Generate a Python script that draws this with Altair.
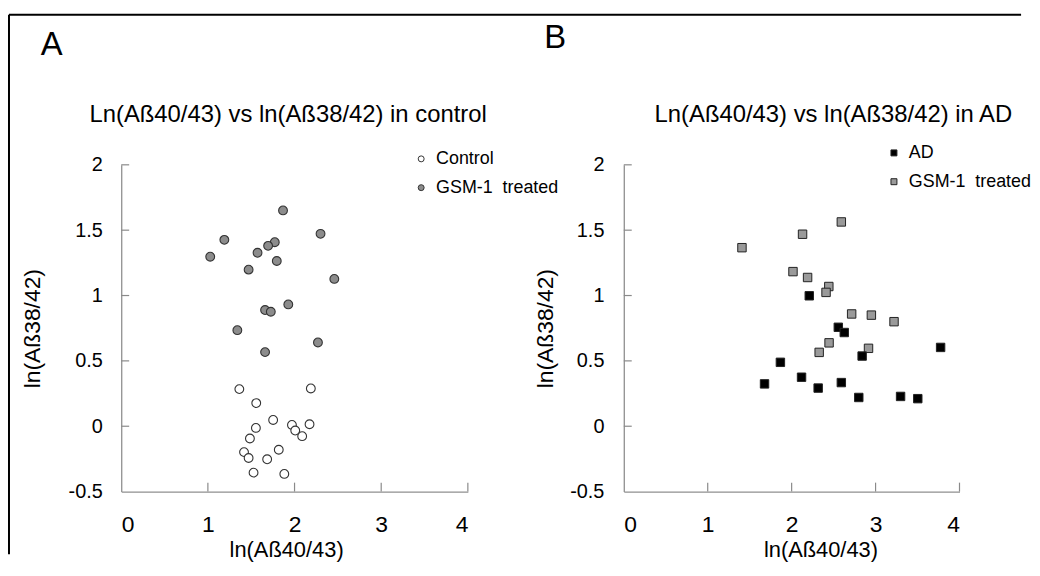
import altair as alt
import pandas as pd

FONT = "Liberation Sans, Arial, Helvetica, sans-serif"

# ---------------- data ----------------
# Panel A: control
ctrl_x = [1.363, 2.188, 1.558, 1.753, 1.554, 1.970, 2.173, 2.008, 2.088, 1.485, 1.417, 1.470, 1.818, 1.684, 1.527, 1.882]
ctrl_y = [0.284, 0.289, 0.177, 0.048, -0.013, 0.010, 0.015, -0.033, -0.076, -0.094, -0.198, -0.243, -0.180, -0.253, -0.355, -0.365]
gsmA_x = [1.867, 2.300, 1.190, 1.027, 1.772, 1.695, 1.573, 1.795, 1.470, 2.459, 1.928, 1.660, 1.726, 1.340, 1.660, 2.270]
gsmA_y = [1.651, 1.472, 1.426, 1.297, 1.408, 1.380, 1.327, 1.264, 1.198, 1.127, 0.932, 0.889, 0.876, 0.735, 0.567, 0.641]

# Panel B: AD
ad_x = [2.210, 2.556, 2.627, 3.775, 2.840, 1.866, 1.677, 2.118, 2.316, 2.592, 2.800, 3.298, 3.503]
ad_y = [0.998, 0.757, 0.717, 0.603, 0.537, 0.489, 0.324, 0.375, 0.292, 0.334, 0.220, 0.228, 0.211]
gsmB_x = [1.408, 2.130, 2.592, 2.016, 2.190, 2.443, 2.410, 2.715, 2.950, 3.220, 2.446, 2.328, 2.916]
gsmB_y = [1.366, 1.469, 1.563, 1.183, 1.138, 1.069, 1.024, 0.859, 0.850, 0.800, 0.638, 0.565, 0.596]

groupsA = ["Control", "GSM-1\u00a0 treated"]
groupsB = ["AD", "GSM-1\u00a0 treated"]
letters = ["A", "B"]
titles = ["Ln(A\u00df40/43) vs ln(A\u00df38/42) in control",
          "Ln(A\u00df40/43) vs ln(A\u00df38/42) in AD"]
x_title = "ln(A\u00df40/43)"
y_title = "ln(A\u00df38/42)"
x_ticks = [0, 1, 2, 3, 4]
y_ticks = [-0.5, 0, 0.5, 1, 1.5, 2]

W, H = 349, 329

dfA = pd.concat([
    pd.DataFrame({"x": ctrl_x, "y": ctrl_y, "g": groupsA[0]}),
    pd.DataFrame({"x": gsmA_x, "y": gsmA_y, "g": groupsA[1]}),
])
dfB = pd.concat([
    pd.DataFrame({"x": gsmB_x, "y": gsmB_y, "g": groupsB[1]}),
    pd.DataFrame({"x": ad_x, "y": ad_y, "g": groupsB[0]}),
])

xscale = alt.Scale(domain=[0, 4], nice=False, zero=False)
yscale = alt.Scale(domain=[-0.5, 2], nice=False, zero=False)


def xaxis(title_x):
    return alt.Axis(values=x_ticks, format="d", grid=False, ticks=False, tickSize=0,
                    labelFontSize=23, labelFont=FONT, labelColor="black",
                    labelPadding=40, labelBaseline="alphabetic",
                    domainColor="#8f8f8f", domainWidth=1.3,
                    title=x_title, titleFont=FONT, titleFontSize=22, titleFontWeight="normal",
                    titleColor="black", titleX=title_x, titleY=65, titleBaseline="alphabetic",
                    titleAlign="center")


def yaxis(title_x, pad):
    return alt.Axis(values=y_ticks, labelExpr="'' + datum.value", grid=False, ticks=False, tickSize=0,
                    labelFontSize=20, labelFont=FONT, labelColor="black",
                    labelPadding=pad, labelAlign="right", labelBaseline="middle",
                    domainColor="#8f8f8f", domainWidth=1.3,
                    title=y_title, titleFont=FONT, titleFontSize=23, titleFontWeight="normal",
                    titleColor="black", titleAngle=270, titleX=title_x, titleY=H / 2,
                    titleBaseline="alphabetic", titleAlign="center")


def inner_ticks():
    xt = alt.Chart(pd.DataFrame({"x": x_ticks[1:]})).mark_rule(
        color="#8a8a8a", strokeWidth=1.2
    ).encode(x=alt.X("x:Q", scale=xscale), y=alt.value(H), y2=alt.value(H - 9))
    yt = alt.Chart(pd.DataFrame({"y": y_ticks[1:]})).mark_rule(
        color="#8a8a8a", strokeWidth=1.2
    ).encode(y=alt.Y("y:Q", scale=yscale), x=alt.value(0), x2=alt.value(8))
    return xt, yt


def text_layer(label, x, y, size):
    return alt.Chart(pd.DataFrame({"t": [label]})).mark_text(
        font=FONT, fontSize=size, color="black", align="left", baseline="alphabetic"
    ).encode(x=alt.value(x), y=alt.value(y), text="t:N")


# ---------------- panel A ----------------
ptsA = alt.Chart(dfA).mark_circle(size=78, stroke="#333333", strokeWidth=1.1, opacity=1).encode(
    x=alt.X("x:Q", scale=xscale, axis=xaxis(166)),
    y=alt.Y("y:Q", scale=yscale, axis=yaxis(-82, 19)),
    fill=alt.Fill("g:N", scale=alt.Scale(domain=groupsA, range=["white", "#8c8c8c"]),
                  legend=alt.Legend(orient="none", legendX=293, legendY=-15, title=None,
                                    labelFont=FONT, labelFontSize=18, labelColor="black",
                                    symbolType="circle", symbolSize=36,
                                    symbolStrokeColor="#333333", symbolStrokeWidth=1,
                                    rowPadding=11, labelOffset=6, padding=0)),
)
xtA, ytA = inner_ticks()
borderTop = alt.Chart(pd.DataFrame({"k": [0]})).mark_rule(color="black", strokeWidth=2).encode(
    x=alt.value(-113), x2=alt.value(906), y=alt.value(-151))
borderLeft = alt.Chart(pd.DataFrame({"k": [0]})).mark_rule(color="black", strokeWidth=2).encode(
    x=alt.value(-113), y=alt.value(-151), y2=alt.value(392))

panelA = alt.layer(
    xtA, ytA, ptsA,
    text_layer(letters[0], -81, -111, 33),
    text_layer(titles[0], -32, -43, 24),
    borderTop, borderLeft,
).properties(width=W, height=H)

# ---------------- panel B ----------------
ptsB = alt.Chart(dfB).mark_square(size=72, stroke="#222222", strokeWidth=1, opacity=1).encode(
    x=alt.X("x:Q", scale=xscale, axis=xaxis(198)),
    y=alt.Y("y:Q", scale=yscale, axis=yaxis(-72, 20)),
    fill=alt.Fill("g:N", scale=alt.Scale(domain=groupsB, range=["black", "#9a9a9a"]),
                  legend=alt.Legend(orient="none", legendX=263, legendY=-21, title=None,
                                    labelFont=FONT, labelFontSize=18, labelColor="black",
                                    symbolType="square", symbolSize=36,
                                    symbolStrokeColor="#222222", symbolStrokeWidth=1,
                                    rowPadding=11, labelOffset=6, padding=0)),
    order=alt.Order("g:N", sort="descending"),
)
xtB, ytB = inner_ticks()
panelB = alt.layer(
    xtB, ytB, ptsB,
    text_layer(letters[1], -80, -118, 33),
    text_layer(titles[1], 31, -43, 24),
).properties(width=W - 11, height=H)

chart = alt.hconcat(panelA, panelB, spacing=157, bounds="flush").resolve_scale(
    fill="independent"
).resolve_legend(fill="independent").properties(
    padding={"left": 0, "top": 4, "right": 0, "bottom": 0},
    background="white",
).configure_view(stroke=None)

chart.save("out.html", embed_options={"renderer": "svg", "actions": False})
